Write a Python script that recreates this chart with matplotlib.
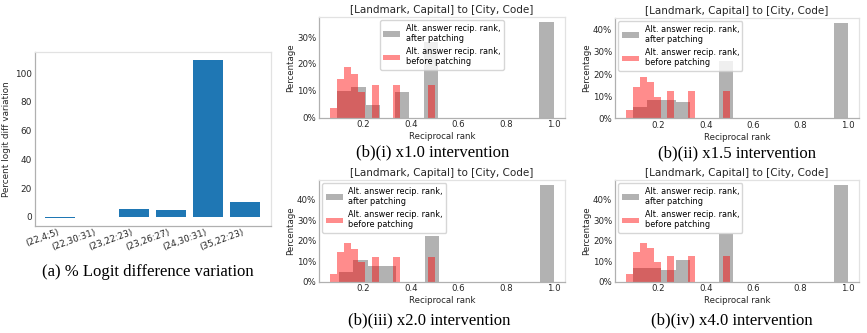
import numpy as np
import matplotlib
matplotlib.use("Agg")
import matplotlib.pyplot as plt
from matplotlib.ticker import MultipleLocator, PercentFormatter

# ---------------- data ----------------
# (a) percent logit difference variation
bar_labels = ["(22,4;5)", "(22,30:31)", "(23,22:23)", "(23,26:27)", "(24,30:31)", "(35,22:23)"]
bar_values = [-0.9, 0.0, 5.3, 4.4, 109.4, 10.3]

# (b) histograms of reciprocal rank (percent per bin, 15 bins each)
red_range = (1 / 16, 0.5)
red_pct = [3.7, 14.3, 18.8, 16.2, 9.6, 0, 12.3, 0, 0, 12.3, 0, 0, 0, 0, 12.3]

gray_range_i = (1 / 11, 1.0)
gray_pct_i = [10.0, 11.5, 4.5, 0, 9.4, 0, 28.0, 0, 0, 0, 0, 0, 0, 0, 35.7]
gray_range_ii = (1 / 11, 1.0)
gray_pct_ii = [5.3, 8.2, 8.2, 7.4, 0, 0, 26.0, 0, 0, 0, 0, 0, 0, 0, 43.2]
gray_range_iii = (1 / 10, 1.0)
gray_pct_iii = [4.9, 10.4, 7.9, 7.9, 0, 0, 22.2, 0, 0, 0, 0, 0, 0, 0, 47.4]
gray_range_iv = (1 / 11, 1.0)
gray_pct_iv = [6.6, 6.6, 5.6, 10.6, 0, 0, 23.3, 0, 0, 0, 0, 0, 0, 0, 47.2]

hist_title = "[Landmark, Capital] to [City, Code]"
label_after = "Alt. answer recip. rank,\nafter patching"
label_before = "Alt. answer recip. rank,\nbefore patching"
captions = ["(a) % Logit difference variation",
            "(b)(i) x1.0 intervention", "(b)(ii) x1.5 intervention",
            "(b)(iii) x2.0 intervention", "(b)(iv) x4.0 intervention"]

# ---------------- layout ----------------
W, H = 867, 333
fig = plt.figure(figsize=(W / 100, H / 100), dpi=100)
plt.rcParams["font.family"] = "DejaVu Sans"
TXT = "#262626"


def rect(l, r, t, b):
    return [l / W, 1 - b / H, (r - l) / W, (b - t) / H]


def style_spines(ax, size=6.2):
    for s in ["left", "bottom"]:
        ax.spines[s].set_color("#b0b0b0")
        ax.spines[s].set_linewidth(0.9)
    for s in ["top", "right"]:
        ax.spines[s].set_color("#e2e2e2")
        ax.spines[s].set_linewidth(0.9)
    ax.tick_params(length=0, pad=2, labelsize=size, colors=TXT)


# (a) bar chart
axa = fig.add_axes(rect(34.7, 270.7, 51.7, 226))
xpos = np.arange(len(bar_labels))
axa.bar(xpos, bar_values, width=0.8, color="#1f77b4", linewidth=0)
axa.set_xticks(xpos)
axa.set_xticklabels(bar_labels, rotation=20, ha="right", rotation_mode="default")
axa.yaxis.set_major_locator(MultipleLocator(20))
axa.set_ylabel("Percent logit diff variation", fontsize=6.4, color=TXT, labelpad=3)
style_spines(axa, size=6.4)
axa.tick_params(axis="x", pad=1)

# (b) histograms
hist_specs = [
    (rect(319, 565, 17, 117.5), gray_range_i, gray_pct_i, "upper center"),
    (rect(615, 859, 18, 118.3), gray_range_ii, gray_pct_ii, "upper left"),
    (rect(319, 565, 180, 281.7), gray_range_iii, gray_pct_iii, "upper left"),
    (rect(615, 859, 180, 281.7), gray_range_iv, gray_pct_iv, "upper left"),
]
red_edges = np.linspace(red_range[0], red_range[1], len(red_pct) + 1)
for r, grange, gpct, loc in hist_specs:
    ax = fig.add_axes(r)
    gedges = np.linspace(grange[0], grange[1], len(gpct) + 1)
    ax.hist(gedges[:-1], bins=gedges, weights=gpct, color="gray", alpha=0.6,
            label=label_after)
    ax.hist(red_edges[:-1], bins=red_edges, weights=red_pct, color="red", alpha=0.45,
            label=label_before)
    ax.set_xticks([0.2, 0.4, 0.6, 0.8, 1.0])
    ax.yaxis.set_major_locator(MultipleLocator(10))
    ax.yaxis.set_major_formatter(PercentFormatter(xmax=100, decimals=0))
    ax.set_xlabel("Reciprocal rank", fontsize=6.2, color=TXT, labelpad=2)
    ax.set_ylabel("Percentage", fontsize=6.2, color=TXT, labelpad=1)
    ax.set_title(hist_title, fontsize=7.5, color=TXT, pad=3)
    style_spines(ax)
    ax.legend(loc=loc, fontsize=5.9, frameon=True, borderaxespad=0.4,
              handlelength=2.1, labelspacing=0.5, handletextpad=0.7)

# captions
cap_pos = [(147.5, 272), (432.5, 152), (736.7, 153), (429, 320), (731.7, 320)]
for (cx, cy), txt in zip(cap_pos, captions):
    fig.text(cx / W, 1 - cy / H, txt, ha="center", va="center",
             family="Liberation Serif", fontsize=12, color="black")

fig.savefig("out.png", dpi=100)
